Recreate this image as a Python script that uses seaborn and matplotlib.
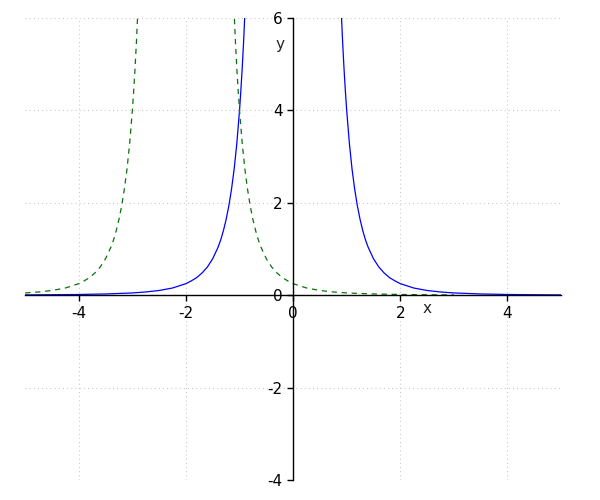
import numpy as np
import pandas as pd
import matplotlib
matplotlib.use("Agg")
import matplotlib.pyplot as plt
import seaborn as sns

# distance from the pole and curve height
dist = [0.875, 0.9, 0.925, 0.95, 0.975, 1.0, 1.05, 1.1, 1.15, 1.2, 1.25, 1.3,
        1.35, 1.4, 1.5, 1.6, 1.7, 1.8, 1.9, 2.0, 2.25, 2.5, 2.75, 3.0, 3.5,
        4.0, 4.5, 5.0]
height = [6.82, 6.10, 5.46, 4.91, 4.43, 4.0, 3.29, 2.73, 2.29, 1.93, 1.64,
          1.40, 1.20, 1.04, 0.79, 0.61, 0.48, 0.38, 0.31, 0.25, 0.156, 0.102,
          0.070, 0.049, 0.027, 0.0156, 0.0098, 0.0064]

blue_pole = 0.0
green_pole = -2.0

x_ticks = [-4, -2, 0, 2, 4]
y_ticks = [-4, -2, 0, 2, 4, 6]

sns.set_style("ticks")
plt.rcParams["axes.unicode_minus"] = False
plt.rcParams["lines.scale_dashes"] = False

fig = plt.figure(figsize=(6, 5), dpi=100)
ax = fig.add_axes([0.042, 0.04, 0.893, 0.924])

for pole, color, dash in [(blue_pole, "blue", "-"),
                          (green_pole, "#0c700c", (0, (3.8, 3.4)))]:
    for side in (-1, 1):
        df = pd.DataFrame({"x": [pole + side * d for d in dist], "y": height})
        df = df[(df["x"] >= -5) & (df["x"] <= 5)]
        sns.lineplot(data=df, x="x", y="y", color=color, linestyle=dash,
                     linewidth=0.9, estimator=None, sort=True, ax=ax)

ax.set_xlim(-5, 5)
ax.set_ylim(-4, 6)
ax.set_xticks(x_ticks)
ax.set_yticks(y_ticks)
ax.set_xlabel("")
ax.set_ylabel("")

ax.spines["left"].set_position(("data", 0))
ax.spines["bottom"].set_position(("data", 0))
ax.spines["top"].set_visible(False)
ax.spines["right"].set_visible(False)
for s in ("left", "bottom"):
    ax.spines[s].set_linewidth(1.0)
    ax.spines[s].set_color("black")

ax.tick_params(direction="out", length=4, width=1, labelsize=11, colors="black")
ax.grid(True, linestyle=(0, (0.7, 2.3)), color="#c4c4c4", linewidth=0.8)
ax.set_axisbelow(True)

ax.text(2.5, -0.28, "x", fontsize=11, ha="center", va="center")
ax.text(-0.24, 5.43, "y", fontsize=11, ha="center", va="center")

plt.savefig("out.png")
